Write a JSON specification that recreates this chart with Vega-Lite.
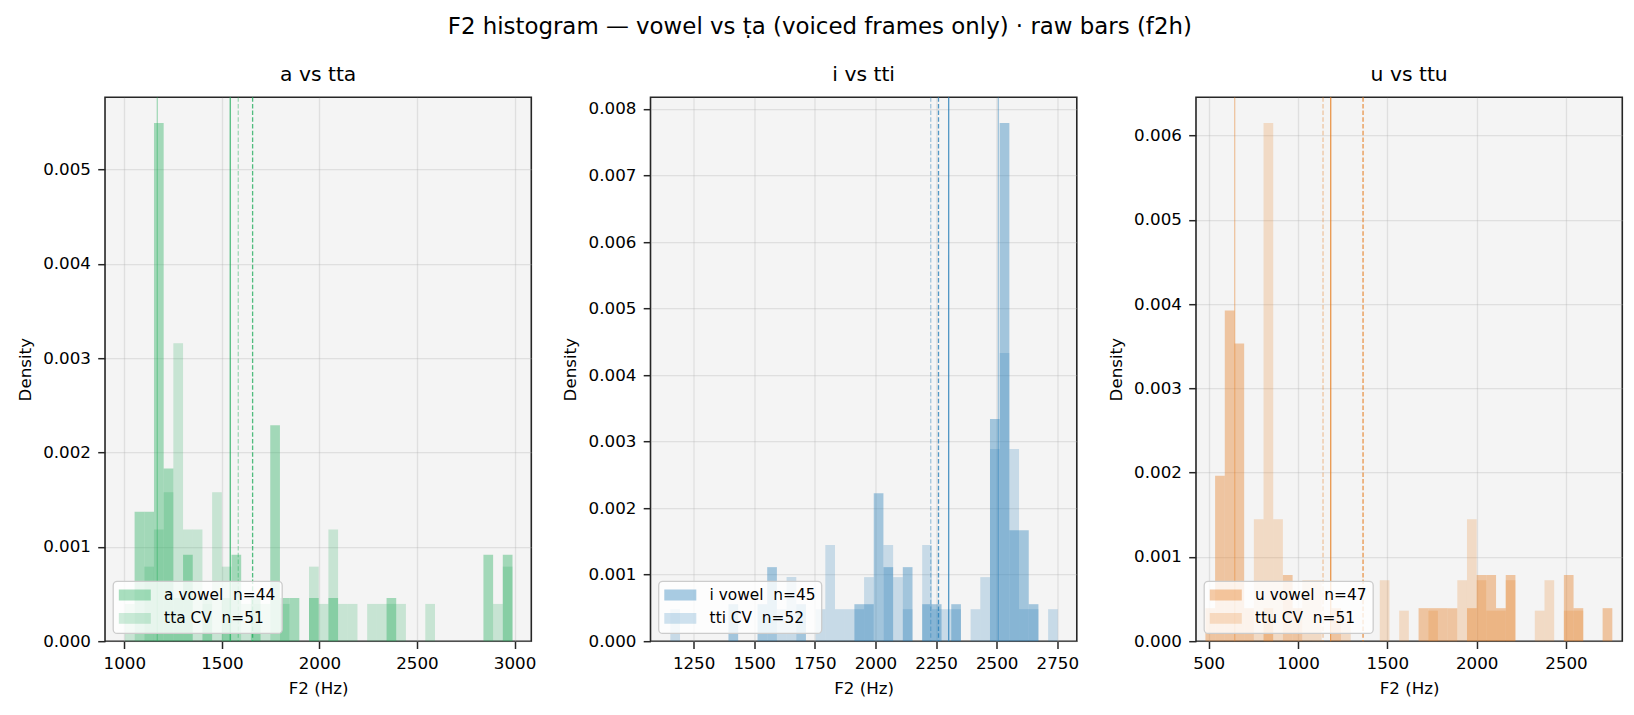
{
  "$schema": "https://vega.github.io/schema/vega-lite/v6.json",
  "autosize": {"type": "pad"},
  "padding": {"left": 16, "top": 16.2, "right": 5, "bottom": 5},
  "background": "white",
  "title": {
    "text": "F2 histogram — vowel vs ṭa (voiced frames only) · raw bars (f2h)",
    "fontSize": 22.9,
    "anchor": "middle",
    "frame": "bounds",
    "offset": 25
  },
  "datasets": {
    "bars": [
      {"p": "a", "s": "v", "x0": 1052.7, "x1": 1102.3, "d": 0.001373},
      {"p": "a", "s": "v", "x0": 1102.3, "x1": 1152.0, "d": 0.001373},
      {"p": "a", "s": "v", "x0": 1152.0, "x1": 1201.7, "d": 0.005491},
      {"p": "a", "s": "v", "x0": 1201.7, "x1": 1251.3, "d": 0.001830},
      {"p": "a", "s": "v", "x0": 1251.3, "x1": 1301.0, "d": 0.000458},
      {"p": "a", "s": "v", "x0": 1301.0, "x1": 1350.7, "d": 0.000915},
      {"p": "a", "s": "v", "x0": 1400.3, "x1": 1450.0, "d": 0.000458},
      {"p": "a", "s": "v", "x0": 1499.7, "x1": 1549.3, "d": 0.000458},
      {"p": "a", "s": "v", "x0": 1549.3, "x1": 1599.0, "d": 0.000915},
      {"p": "a", "s": "v", "x0": 1648.6, "x1": 1698.3, "d": 0.000458},
      {"p": "a", "s": "v", "x0": 1748.0, "x1": 1797.6, "d": 0.002288},
      {"p": "a", "s": "v", "x0": 1797.6, "x1": 1847.3, "d": 0.000458},
      {"p": "a", "s": "v", "x0": 1847.3, "x1": 1897.0, "d": 0.000458},
      {"p": "a", "s": "v", "x0": 1946.6, "x1": 1996.3, "d": 0.000458},
      {"p": "a", "s": "v", "x0": 2046.0, "x1": 2095.6, "d": 0.000458},
      {"p": "a", "s": "v", "x0": 2344.0, "x1": 2393.6, "d": 0.000458},
      {"p": "a", "s": "v", "x0": 2840.6, "x1": 2890.3, "d": 0.000915},
      {"p": "a", "s": "v", "x0": 2939.9, "x1": 2989.6, "d": 0.000915},

      {"p": "a", "s": "c", "x0": 1003.0, "x1": 1052.7, "d": 0.000395},
      {"p": "a", "s": "c", "x0": 1102.3, "x1": 1152.0, "d": 0.000790},
      {"p": "a", "s": "c", "x0": 1152.0, "x1": 1201.7, "d": 0.001184},
      {"p": "a", "s": "c", "x0": 1201.7, "x1": 1251.3, "d": 0.001579},
      {"p": "a", "s": "c", "x0": 1251.3, "x1": 1301.0, "d": 0.003158},
      {"p": "a", "s": "c", "x0": 1301.0, "x1": 1350.7, "d": 0.001184},
      {"p": "a", "s": "c", "x0": 1350.7, "x1": 1400.3, "d": 0.001184},
      {"p": "a", "s": "c", "x0": 1400.3, "x1": 1450.0, "d": 0.000395},
      {"p": "a", "s": "c", "x0": 1450.0, "x1": 1499.7, "d": 0.001579},
      {"p": "a", "s": "c", "x0": 1499.7, "x1": 1549.3, "d": 0.000790},
      {"p": "a", "s": "c", "x0": 1599.0, "x1": 1648.6, "d": 0.000395},
      {"p": "a", "s": "c", "x0": 1648.6, "x1": 1698.3, "d": 0.000395},
      {"p": "a", "s": "c", "x0": 1698.3, "x1": 1748.0, "d": 0.000395},
      {"p": "a", "s": "c", "x0": 1797.6, "x1": 1847.3, "d": 0.000395},
      {"p": "a", "s": "c", "x0": 1946.6, "x1": 1996.3, "d": 0.000790},
      {"p": "a", "s": "c", "x0": 1996.3, "x1": 2046.0, "d": 0.000395},
      {"p": "a", "s": "c", "x0": 2046.0, "x1": 2095.6, "d": 0.001184},
      {"p": "a", "s": "c", "x0": 2095.6, "x1": 2145.3, "d": 0.000395},
      {"p": "a", "s": "c", "x0": 2145.3, "x1": 2195.0, "d": 0.000395},
      {"p": "a", "s": "c", "x0": 2244.6, "x1": 2294.3, "d": 0.000395},
      {"p": "a", "s": "c", "x0": 2294.3, "x1": 2344.0, "d": 0.000395},
      {"p": "a", "s": "c", "x0": 2344.0, "x1": 2393.6, "d": 0.000395},
      {"p": "a", "s": "c", "x0": 2393.6, "x1": 2443.3, "d": 0.000395},
      {"p": "a", "s": "c", "x0": 2542.6, "x1": 2592.3, "d": 0.000395},
      {"p": "a", "s": "c", "x0": 2890.3, "x1": 2939.9, "d": 0.000395},
      {"p": "a", "s": "c", "x0": 2939.9, "x1": 2989.6, "d": 0.000790},

      {"p": "i", "s": "v", "x0": 1393.7, "x1": 1433.7, "d": 0.000556},
      {"p": "i", "s": "v", "x0": 1513.6, "x1": 1553.5, "d": 0.000556},
      {"p": "i", "s": "v", "x0": 1553.5, "x1": 1593.5, "d": 0.001113},
      {"p": "i", "s": "v", "x0": 1673.4, "x1": 1713.3, "d": 0.000556},
      {"p": "i", "s": "v", "x0": 1913.1, "x1": 1953.0, "d": 0.000556},
      {"p": "i", "s": "v", "x0": 1953.0, "x1": 1993.0, "d": 0.000556},
      {"p": "i", "s": "v", "x0": 1993.0, "x1": 2032.9, "d": 0.002225},
      {"p": "i", "s": "v", "x0": 2032.9, "x1": 2072.9, "d": 0.001113},
      {"p": "i", "s": "v", "x0": 2112.8, "x1": 2152.8, "d": 0.001113},
      {"p": "i", "s": "v", "x0": 2192.7, "x1": 2232.7, "d": 0.000556},
      {"p": "i", "s": "v", "x0": 2232.7, "x1": 2272.6, "d": 0.000556},
      {"p": "i", "s": "v", "x0": 2312.6, "x1": 2352.5, "d": 0.000556},
      {"p": "i", "s": "v", "x0": 2472.4, "x1": 2512.3, "d": 0.003338},
      {"p": "i", "s": "v", "x0": 2512.3, "x1": 2552.3, "d": 0.007788},
      {"p": "i", "s": "v", "x0": 2552.3, "x1": 2592.2, "d": 0.001669},
      {"p": "i", "s": "v", "x0": 2592.2, "x1": 2632.2, "d": 0.001669},
      {"p": "i", "s": "v", "x0": 2632.2, "x1": 2672.1, "d": 0.000556},

      {"p": "i", "s": "c", "x0": 1154.0, "x1": 1194.0, "d": 0.000481},
      {"p": "i", "s": "c", "x0": 1593.5, "x1": 1633.4, "d": 0.000481},
      {"p": "i", "s": "c", "x0": 1633.4, "x1": 1673.4, "d": 0.000963},
      {"p": "i", "s": "c", "x0": 1753.3, "x1": 1793.2, "d": 0.000481},
      {"p": "i", "s": "c", "x0": 1793.2, "x1": 1833.2, "d": 0.001444},
      {"p": "i", "s": "c", "x0": 1833.2, "x1": 1873.1, "d": 0.000481},
      {"p": "i", "s": "c", "x0": 1873.1, "x1": 1913.1, "d": 0.000481},
      {"p": "i", "s": "c", "x0": 1913.1, "x1": 1953.0, "d": 0.000481},
      {"p": "i", "s": "c", "x0": 1953.0, "x1": 1993.0, "d": 0.000963},
      {"p": "i", "s": "c", "x0": 2032.9, "x1": 2072.9, "d": 0.001444},
      {"p": "i", "s": "c", "x0": 2072.9, "x1": 2112.8, "d": 0.000963},
      {"p": "i", "s": "c", "x0": 2112.8, "x1": 2152.8, "d": 0.000481},
      {"p": "i", "s": "c", "x0": 2192.7, "x1": 2232.7, "d": 0.001444},
      {"p": "i", "s": "c", "x0": 2232.7, "x1": 2272.6, "d": 0.000481},
      {"p": "i", "s": "c", "x0": 2272.6, "x1": 2312.6, "d": 0.000481},
      {"p": "i", "s": "c", "x0": 2312.6, "x1": 2352.5, "d": 0.000481},
      {"p": "i", "s": "c", "x0": 2392.5, "x1": 2432.4, "d": 0.000481},
      {"p": "i", "s": "c", "x0": 2432.4, "x1": 2472.4, "d": 0.000963},
      {"p": "i", "s": "c", "x0": 2472.4, "x1": 2512.3, "d": 0.002888},
      {"p": "i", "s": "c", "x0": 2512.3, "x1": 2552.3, "d": 0.004332},
      {"p": "i", "s": "c", "x0": 2552.3, "x1": 2592.2, "d": 0.002888},
      {"p": "i", "s": "c", "x0": 2592.2, "x1": 2632.2, "d": 0.000481},
      {"p": "i", "s": "c", "x0": 2632.2, "x1": 2672.1, "d": 0.000481},
      {"p": "i", "s": "c", "x0": 2712.1, "x1": 2752.0, "d": 0.000481},

      {"p": "u", "s": "v", "x0": 481.6, "x1": 535.8, "d": 0.000392},
      {"p": "u", "s": "v", "x0": 535.8, "x1": 590.1, "d": 0.001962},
      {"p": "u", "s": "v", "x0": 590.1, "x1": 644.3, "d": 0.003923},
      {"p": "u", "s": "v", "x0": 644.3, "x1": 698.5, "d": 0.003531},
      {"p": "u", "s": "v", "x0": 698.5, "x1": 752.8, "d": 0.000392},
      {"p": "u", "s": "v", "x0": 807.0, "x1": 861.2, "d": 0.000392},
      {"p": "u", "s": "v", "x0": 915.4, "x1": 969.7, "d": 0.000785},
      {"p": "u", "s": "v", "x0": 969.7, "x1": 1023.9, "d": 0.000392},
      {"p": "u", "s": "v", "x0": 1186.6, "x1": 1240.8, "d": 0.000392},
      {"p": "u", "s": "v", "x0": 1674.7, "x1": 1728.9, "d": 0.000392},
      {"p": "u", "s": "v", "x0": 1728.9, "x1": 1783.1, "d": 0.000392},
      {"p": "u", "s": "v", "x0": 1783.1, "x1": 1837.4, "d": 0.000392},
      {"p": "u", "s": "v", "x0": 1837.4, "x1": 1891.6, "d": 0.000392},
      {"p": "u", "s": "v", "x0": 1945.8, "x1": 2000.0, "d": 0.000392},
      {"p": "u", "s": "v", "x0": 2000.0, "x1": 2054.3, "d": 0.000785},
      {"p": "u", "s": "v", "x0": 2054.3, "x1": 2108.5, "d": 0.000785},
      {"p": "u", "s": "v", "x0": 2108.5, "x1": 2162.7, "d": 0.000392},
      {"p": "u", "s": "v", "x0": 2162.7, "x1": 2217.0, "d": 0.000785},
      {"p": "u", "s": "v", "x0": 2488.1, "x1": 2542.3, "d": 0.000785},
      {"p": "u", "s": "v", "x0": 2542.3, "x1": 2596.6, "d": 0.000392},
      {"p": "u", "s": "v", "x0": 2705.0, "x1": 2759.3, "d": 0.000392},

      {"p": "u", "s": "c", "x0": 752.8, "x1": 807.0, "d": 0.001446},
      {"p": "u", "s": "c", "x0": 807.0, "x1": 861.2, "d": 0.006147},
      {"p": "u", "s": "c", "x0": 861.2, "x1": 915.4, "d": 0.001446},
      {"p": "u", "s": "c", "x0": 1023.9, "x1": 1078.1, "d": 0.000723},
      {"p": "u", "s": "c", "x0": 1078.1, "x1": 1132.4, "d": 0.000723},
      {"p": "u", "s": "c", "x0": 1240.8, "x1": 1295.1, "d": 0.000362},
      {"p": "u", "s": "c", "x0": 1457.7, "x1": 1512.0, "d": 0.000723},
      {"p": "u", "s": "c", "x0": 1566.2, "x1": 1620.4, "d": 0.000362},
      {"p": "u", "s": "c", "x0": 1728.9, "x1": 1783.1, "d": 0.000362},
      {"p": "u", "s": "c", "x0": 1891.6, "x1": 1945.8, "d": 0.000723},
      {"p": "u", "s": "c", "x0": 1945.8, "x1": 2000.0, "d": 0.001446},
      {"p": "u", "s": "c", "x0": 2000.0, "x1": 2054.3, "d": 0.000723},
      {"p": "u", "s": "c", "x0": 2054.3, "x1": 2108.5, "d": 0.000362},
      {"p": "u", "s": "c", "x0": 2108.5, "x1": 2162.7, "d": 0.000362},
      {"p": "u", "s": "c", "x0": 2162.7, "x1": 2217.0, "d": 0.000723},
      {"p": "u", "s": "c", "x0": 2325.4, "x1": 2379.7, "d": 0.000362},
      {"p": "u", "s": "c", "x0": 2379.7, "x1": 2433.9, "d": 0.000723},
      {"p": "u", "s": "c", "x0": 2488.1, "x1": 2542.3, "d": 0.000362},
      {"p": "u", "s": "c", "x0": 2542.3, "x1": 2596.6, "d": 0.000362}
    ],
    "lines": [
      {"p": "a", "s": "v", "k": "mean", "x0": 1543},
      {"p": "a", "s": "v", "k": "median", "x0": 1169},
      {"p": "a", "s": "c", "k": "mean", "x0": 1657.5},
      {"p": "a", "s": "c", "k": "median", "x0": 1584},
      {"p": "i", "s": "v", "k": "mean", "x0": 2302},
      {"p": "i", "s": "v", "k": "median", "x0": 2507},
      {"p": "i", "s": "c", "k": "mean", "x0": 2260},
      {"p": "i", "s": "c", "k": "median", "x0": 2228},
      {"p": "u", "s": "v", "k": "mean", "x0": 1183},
      {"p": "u", "s": "v", "k": "median", "x0": 645.5},
      {"p": "u", "s": "c", "k": "mean", "x0": 1364},
      {"p": "u", "s": "c", "k": "median", "x0": 1140}
    ]
  },
  "spacing": 118.5,
  "bounds": "flush",
  "resolve": {
    "scale": {"x": "independent", "y": "independent", "color": "independent", "opacity": "independent"},
    "legend": {"color": "independent", "opacity": "independent"}
  },
  "hconcat": [
    {
      "width": 426.3,
      "height": 544,
      "title": {"text": "a vs tta", "fontSize": 20.3, "offset": 11.2},
      "encoding": {
        "x": {
          "field": "x0", "type": "quantitative",
          "scale": {"domain": [901, 3086], "nice": false, "zero": false},
          "axis": {"values": [1000, 1500, 2000, 2500, 3000], "format": "d", "title": "F2 (Hz)"}
        }
      },
      "layer": [
        {
          "data": {"name": "bars"},
          "transform": [{"filter": "datum.p == 'a'"}],
          "mark": {"type": "bar", "strokeWidth": 0},
          "encoding": {
            "x2": {"field": "x1"},
            "y": {
              "field": "d", "type": "quantitative", "stack": null,
              "scale": {"domain": [0, 0.005765], "nice": false},
              "axis": {"values": [0, 0.001, 0.002, 0.003, 0.004, 0.005], "format": ".3f", "title": "Density"}
            },
            "y2": {"datum": 0},
            "color": {
              "field": "s", "type": "nominal",
              "scale": {"domain": ["v", "c"], "range": ["#27ae60", "#27ae60"]},
              "legend": {"title": null, "labelExpr": "datum.label == 'v' ? 'a vowel\u00a0 n=44' : 'tta CV\u00a0 n=51'"}
            },
            "opacity": {
              "field": "s", "type": "nominal",
              "scale": {"domain": ["v", "c"], "range": [0.4, 0.22]},
              "legend": {"title": null, "labelExpr": "datum.label == 'v' ? 'a vowel\u00a0 n=44' : 'tta CV\u00a0 n=51'"}
            }
          }
        },
        {
          "data": {"name": "lines"},
          "transform": [{"filter": "datum.p == 'a'"}],
          "mark": {"type": "rule", "strokeWidth": 1.3, "color": "#27ae60"},
          "encoding": {
            "strokeDash": {"condition": {"test": "datum.s == 'c'", "value": [4.5, 2.2]}, "value": [1, 0]},
            "strokeOpacity": {"condition": {"test": "datum.k == 'mean'", "value": 0.8}, "value": 0.4}
          }
        }
      ]
    },
    {
      "width": 426.3,
      "height": 544,
      "title": {"text": "i vs tti", "fontSize": 20.3, "offset": 11.2},
      "encoding": {
        "x": {
          "field": "x0", "type": "quantitative",
          "scale": {"domain": [1072.2, 2830.4], "nice": false, "zero": false},
          "axis": {"values": [1250, 1500, 1750, 2000, 2250, 2500, 2750], "format": "d", "title": "F2 (Hz)"}
        }
      },
      "layer": [
        {
          "data": {"name": "bars"},
          "transform": [{"filter": "datum.p == 'i'"}],
          "mark": {"type": "bar", "strokeWidth": 0},
          "encoding": {
            "x2": {"field": "x1"},
            "y": {
              "field": "d", "type": "quantitative", "stack": null,
              "scale": {"domain": [0, 0.008177], "nice": false},
              "axis": {"values": [0, 0.001, 0.002, 0.003, 0.004, 0.005, 0.006, 0.007, 0.008], "format": ".3f", "title": "Density"}
            },
            "y2": {"datum": 0},
            "color": {
              "field": "s", "type": "nominal",
              "scale": {"domain": ["v", "c"], "range": ["#2980b9", "#2980b9"]},
              "legend": {"title": null, "labelExpr": "datum.label == 'v' ? 'i vowel\u00a0 n=45' : 'tti CV\u00a0 n=52'"}
            },
            "opacity": {
              "field": "s", "type": "nominal",
              "scale": {"domain": ["v", "c"], "range": [0.4, 0.22]},
              "legend": {"title": null, "labelExpr": "datum.label == 'v' ? 'i vowel\u00a0 n=45' : 'tti CV\u00a0 n=52'"}
            }
          }
        },
        {
          "data": {"name": "lines"},
          "transform": [{"filter": "datum.p == 'i'"}],
          "mark": {"type": "rule", "strokeWidth": 1.3, "color": "#2980b9"},
          "encoding": {
            "strokeDash": {"condition": {"test": "datum.s == 'c'", "value": [4.5, 2.2]}, "value": [1, 0]},
            "strokeOpacity": {"condition": {"test": "datum.k == 'mean'", "value": 0.8}, "value": 0.4}
          }
        }
      ]
    },
    {
      "width": 426.3,
      "height": 544,
      "title": {"text": "u vs ttu", "fontSize": 20.3, "offset": 11.2},
      "encoding": {
        "x": {
          "field": "x0", "type": "quantitative",
          "scale": {"domain": [428.9, 2815.1], "nice": false, "zero": false},
          "axis": {"values": [500, 1000, 1500, 2000, 2500], "format": "d", "title": "F2 (Hz)"}
        }
      },
      "layer": [
        {
          "data": {"name": "bars"},
          "transform": [{"filter": "datum.p == 'u'"}],
          "mark": {"type": "bar", "strokeWidth": 0},
          "encoding": {
            "x2": {"field": "x1"},
            "y": {
              "field": "d", "type": "quantitative", "stack": null,
              "scale": {"domain": [0, 0.006454], "nice": false},
              "axis": {"values": [0, 0.001, 0.002, 0.003, 0.004, 0.005, 0.006], "format": ".3f", "title": "Density"}
            },
            "y2": {"datum": 0},
            "color": {
              "field": "s", "type": "nominal",
              "scale": {"domain": ["v", "c"], "range": ["#e67e22", "#e67e22"]},
              "legend": {"title": null, "labelExpr": "datum.label == 'v' ? 'u vowel\u00a0 n=47' : 'ttu CV\u00a0 n=51'"}
            },
            "opacity": {
              "field": "s", "type": "nominal",
              "scale": {"domain": ["v", "c"], "range": [0.4, 0.22]},
              "legend": {"title": null, "labelExpr": "datum.label == 'v' ? 'u vowel\u00a0 n=47' : 'ttu CV\u00a0 n=51'"}
            }
          }
        },
        {
          "data": {"name": "lines"},
          "transform": [{"filter": "datum.p == 'u'"}],
          "mark": {"type": "rule", "strokeWidth": 1.3, "color": "#e67e22"},
          "encoding": {
            "strokeDash": {"condition": {"test": "datum.s == 'c'", "value": [4.5, 2.2]}, "value": [1, 0]},
            "strokeOpacity": {"condition": {"test": "datum.k == 'mean'", "value": 0.8}, "value": 0.4}
          }
        }
      ]
    }
  ],
  "config": {
    "font": "DejaVu Sans",
    "view": {"fill": "#f4f4f4", "stroke": "#262626", "strokeWidth": 1.6},
    "axis": {
      "domain": false,
      "grid": true,
      "gridColor": "#b0b0b0",
      "gridOpacity": 0.3,
      "gridWidth": 1.3,
      "zindex": 1,
      "ticks": true,
      "tickColor": "#262626",
      "tickWidth": 1.5,
      "tickSize": 7.3,
      "labelFont": "DejaVu Sans",
      "labelFontSize": 16.7,
      "labelColor": "#000000",
      "labelPadding": 7.3,
      "labelFlush": false,
      "labelOverlap": false,
      "labelBound": false,
      "titleFont": "DejaVu Sans",
      "titleFontSize": 16.7,
      "titleFontWeight": "normal",
      "titleColor": "#000000",
      "titlePadding": 8.3
    },
    "legend": {
      "orient": "bottom-left",
      "offset": 8,
      "padding": 5.8,
      "fillColor": "rgba(255,255,255,0.8)",
      "strokeColor": "#cccccc",
      "strokeWidth": 1.3,
      "cornerRadius": 4,
      "symbolType": "M-1,-0.68H3V0.68H-1Z",
      "symbolSize": 256,
      "symbolStrokeWidth": 0,
      "labelFont": "DejaVu Sans",
      "labelFontSize": 15.4,
      "labelColor": "#000000",
      "labelOffset": 29.3,
      "labelLimit": 400,
      "rowPadding": 6.4,
      "zindex": 2
    },
    "title": {"font": "DejaVu Sans", "fontWeight": "normal", "color": "#000000"}
  }
}
